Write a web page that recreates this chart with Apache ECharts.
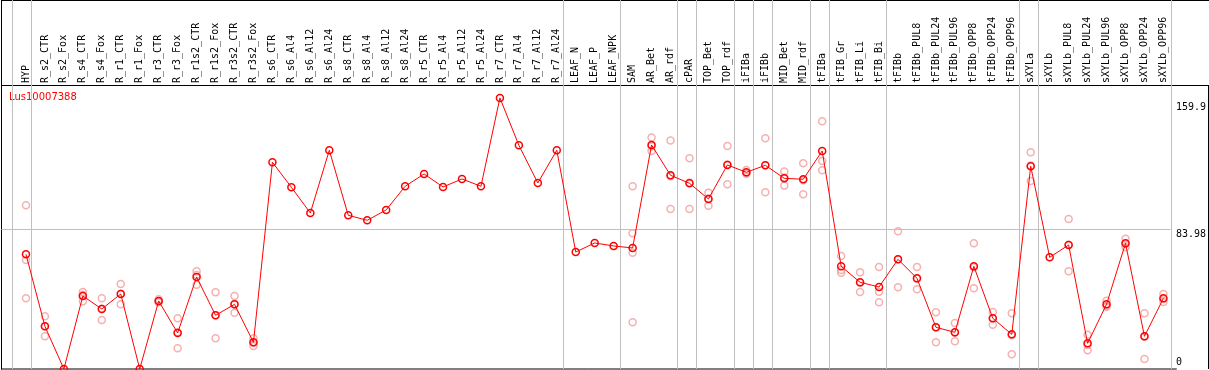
<!DOCTYPE html>
<html>
<head>
<meta charset="utf-8">
<script src="https://cdn.jsdelivr.net/npm/echarts@6/dist/echarts.min.js"></script>
<style>
html,body{margin:0;padding:0;background:#fff;}
#chart{width:1209px;height:370px;}
</style>
</head>
<body>
<div id="chart"></div>
<script>
const categories = ['HYP','R_s2_CTR','R_s2_Fox','R_s4_CTR','R_s4_Fox','R_r1_CTR','R_r1_Fox','R_r3_CTR','R_r3_Fox','R_r1s2_CTR','R_r1s2_Fox','R_r3s2_CTR','R_r3s2_Fox','R_s6_CTR','R_s6_Al4','R_s6_Al12','R_s6_Al24','R_s8_CTR','R_s8_Al4','R_s8_Al12','R_s8_Al24','R_r5_CTR','R_r5_Al4','R_r5_Al12','R_r5_Al24','R_r7_CTR','R_r7_Al4','R_r7_Al12','R_r7_Al24','LEAF_N','LEAF_P','LEAF_NPK','SAM','AR_Bet','AR_rdf','cPAR','TOP_Bet','TOP_rdf','iFIBa','iFIBb','MID_Bet','MID_rdf','tFIBa','tFIB_Gr','tFIB_Li','tFIB_Bi','tFIBb','tFIBb_PUL8','tFIBb_PUL24','tFIBb_PUL96','tFIBb_OPP8','tFIBb_OPP24','tFIBb_OPP96','sXYLa','sXYLb','sXYLb_PUL8','sXYLb_PUL24','sXYLb_PUL96','sXYLb_OPP8','sXYLb_OPP24','sXYLb_OPP96'];

const seriesName = 'Lus10007388';

const meanValues = [68.8,25.6,0,43.8,36.0,45.0,0,40.8,21.6,55.2,32.2,38.8,16.0,124.0,109.0,93.6,131.2,92.2,89.2,95.4,109.6,117.0,109.2,114.0,109.6,162.6,134.2,111.6,131.2,70.2,75.6,73.8,72.6,134.4,116.2,111.4,102.0,122.4,118.0,122.2,114.4,113.8,130.8,61.6,52.0,49.2,65.8,54.4,25.0,22.0,61.6,30.4,20.8,121.6,67.0,74.4,15.4,38.8,75.4,19.6,42.4];

const rep1 = [98.2,31.6,null,46.2,42.4,51.0,null,41.8,30.4,58.6,46.0,43.8,18.4,null,null,null,null,null,null,null,null,null,null,null,null,null,null,null,null,null,null,null,109.6,138.8,137.0,126.4,105.8,133.8,119.4,138.4,118.4,123.4,148.6,67.8,58.0,61.2,82.6,61.2,34.0,27.6,75.4,34.2,33.4,130.0,null,90.0,20.6,41.0,78.2,33.4,45.0];
const rep2 = [65.4,25.6,null,44.6,36.2,45.2,null,40.5,22.0,56.4,32.2,38.8,15.8,null,null,null,null,null,null,null,null,null,null,null,null,null,null,null,null,null,null,null,81.4,133.6,115.6,111.8,102.2,122.6,117.4,122.2,114.8,113.2,124.8,59.4,51.8,46.4,65.8,54.2,25.0,21.8,61.0,30.4,20.2,122.0,null,74.6,14.4,38.0,75.0,19.4,42.0];
const rep3 = [42.4,19.6,null,40.6,29.4,38.8,null,40.1,12.4,50.6,18.4,33.8,13.8,null,null,null,null,null,null,null,null,null,null,null,null,null,null,null,null,null,null,null,69.8,130.8,96.0,96.0,98.0,110.8,117.2,106.0,110.0,104.8,119.2,57.8,46.2,40.0,49.0,47.8,16.0,16.6,48.4,26.6,8.8,112.8,null,58.6,11.2,37.4,73.0,6.0,40.2];
const rep4 = [null,null,null,null,null,null,null,null,null,null,null,null,null,null,null,null,null,null,null,null,null,null,null,null,null,null,null,null,null,null,null,null,28.0,null,null,null,null,null,null,null,null,null,null,null,null,null,null,null,null,null,null,null,null,null,null,null,null,null,null,null,null];

// group separators are drawn after these category indices
const groupEnds = [-1,0,28,31,34,35,37,38,39,41,42,45,52,53,60];
const refLineValue = 83.98;
const yLabelTop = [159.9, 83.98];
const yLabelBottom = [0];

// ---- layout ----
const W = 1209, H = 370;
const COL_W = 19, GRID_LEFT = 16.5;
const PLOT_TOP = 85, PLOT_BOTTOM = 369;
const FRAME_LEFT = 1.5;
const Y_MAX = 170.36;
const nCat = categories.length;
const mainRight = W - (GRID_LEFT + nCat * COL_W);
const sepMin = -0.5 - (GRID_LEFT - FRAME_LEFT) / COL_W;
const sepMax = groupEnds[groupEnds.length - 1] + 0.25;
const sepRight = W - (GRID_LEFT + (sepMax + 0.5) * COL_W);
const Y_MAX2 = Y_MAX * PLOT_BOTTOM / (PLOT_BOTTOM - PLOT_TOP);

const repData = [];
[rep1, rep2, rep3, rep4].forEach(arr => arr.forEach((v, i) => { if (v != null) repData.push([categories[i], v]); }));

const mono = 'DejaVu Sans Mono';
const chart = echarts.init(document.getElementById('chart'), null, {renderer: 'canvas'});
chart.setOption({
  animation: false,
  backgroundColor: '#fff',
  legend: {
    data: [seriesName], left: 4, top: 91, padding: 0, icon: 'none', itemWidth: 0, itemHeight: 12,
    textStyle: {color: '#ff0000', fontFamily: 'DejaVu Sans', fontSize: 10}, selectedMode: false
  },
  grid: [
    {left: GRID_LEFT, right: mainRight, top: PLOT_TOP, bottom: H - PLOT_BOTTOM, containLabel: false},
    {left: FRAME_LEFT, right: sepRight, top: 0, bottom: H - PLOT_BOTTOM, containLabel: false}
  ],
  xAxis: [
    {type: 'category', gridIndex: 0, data: categories, position: 'top', boundaryGap: true,
     axisLine: {show: false}, axisTick: {show: false}, splitLine: {show: false},
     axisLabel: {interval: 0, rotate: 90, margin: 2, fontFamily: mono, fontSize: 10, color: '#000'}},
    {type: 'value', gridIndex: 1, min: sepMin, max: sepMax, show: false}
  ],
  yAxis: [
    {type: 'value', gridIndex: 0, min: 0, max: Y_MAX, position: 'right',
     axisLine: {show: false}, axisTick: {show: false}, splitLine: {show: false},
     axisLabel: {customValues: yLabelTop, formatter: v => String(v), verticalAlign: 'top', align: 'left', margin: 3,
       fontFamily: mono, fontSize: 10, color: '#000'}},
    {type: 'value', gridIndex: 0, min: 0, max: Y_MAX, position: 'right',
     axisLine: {show: false}, axisTick: {show: false}, splitLine: {show: false},
     axisLabel: {customValues: yLabelBottom, formatter: v => String(v), verticalAlign: 'bottom', align: 'left', margin: 3,
       padding: [0, 0, 2, 0], fontFamily: mono, fontSize: 10, color: '#000'}},
    {type: 'value', gridIndex: 1, min: 0, max: Y_MAX2, show: false}
  ],
  graphic: [
    {type: 'line', shape: {x1: 1, y1: 0.5, x2: W, y2: 0.5}, style: {stroke: '#000', lineWidth: 1}, silent: true},
    {type: 'line', shape: {x1: FRAME_LEFT, y1: 0, x2: FRAME_LEFT, y2: PLOT_BOTTOM + 0.5}, style: {stroke: '#000', lineWidth: 1}, silent: true},
    {type: 'line', shape: {x1: 1, y1: PLOT_TOP + 0.5, x2: W, y2: PLOT_TOP + 0.5}, style: {stroke: '#000', lineWidth: 1}, silent: true},
    {type: 'line', shape: {x1: 1, y1: PLOT_BOTTOM, x2: W - sepRight + 6, y2: PLOT_BOTTOM}, style: {stroke: '#000', lineWidth: 1}, silent: true},
    {type: 'line', shape: {x1: W - 0.5, y1: PLOT_TOP, x2: W - 0.5, y2: PLOT_BOTTOM}, style: {stroke: '#000', lineWidth: 1}, silent: true}
  ],
  series: [
    {type: 'line', xAxisIndex: 1, yAxisIndex: 2, data: [], silent: true, z: 1,
     markLine: {silent: true, symbol: 'none', animation: false,
       lineStyle: {color: '#c0c0c0', width: 1, type: 'solid'}, label: {show: false},
       emphasis: {disabled: true},
       data: groupEnds.map(i => ({xAxis: i + 0.25})).concat([{yAxis: refLineValue}])}},
    {type: 'scatter', name: 'replicates', xAxisIndex: 0, yAxisIndex: 0, data: repData, z: 3,
     symbol: 'circle', symbolSize: 7, silent: true,
     itemStyle: {color: 'rgba(255,255,255,0)', borderColor: '#f29c9c', borderWidth: 1.5}},
    {type: 'line', name: seriesName, xAxisIndex: 0, yAxisIndex: 0, data: meanValues, z: 5,
     symbol: 'circle', symbolSize: 7, showAllSymbol: true, silent: true,
     lineStyle: {color: '#ff0000', width: 1},
     itemStyle: {color: 'rgba(255,255,255,0)', borderColor: '#ff0000', borderWidth: 1.5}}
  ]
});
</script>
</body>
</html>
